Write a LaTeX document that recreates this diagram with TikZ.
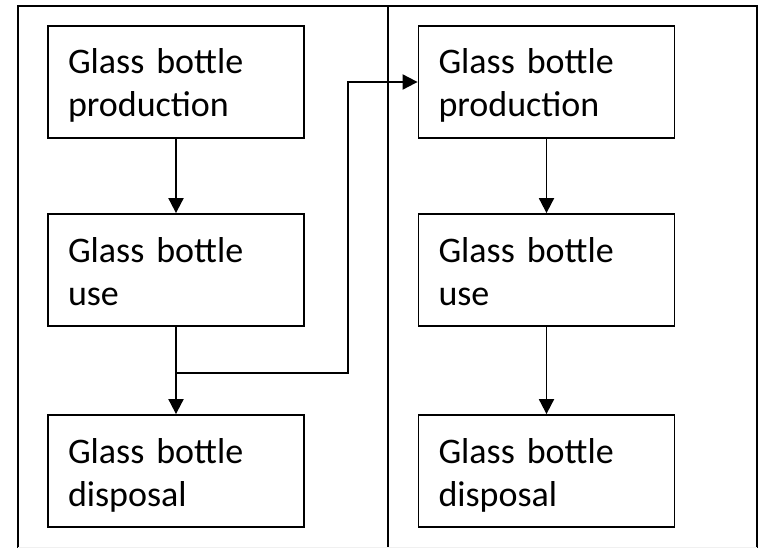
\documentclass[tikz,border=0pt]{standalone}
\usepackage{fontspec}
\setmainfont{Carlito}
\usetikzlibrary{arrows.meta}
\newcommand\boxstrut{\rule[-8pt]{0pt}{43pt}}
\tikzset{
  stagebox/.style={draw=black, line width=1.8pt, rectangle, minimum width=256pt, minimum height=112pt,
    inner xsep=20pt, inner ysep=0pt, text width=216pt, align=left,
    font=\fontsize{36}{43}\selectfont},
  frameline/.style={draw=black, line width=2.2pt},
  flow/.style={draw=black, line width=1.9pt, -{Triangle[width=15pt,length=15pt]}}
}
\begin{document}
\begin{tikzpicture}[x=1pt,y=-1pt]
\useasboundingbox (0,0) rectangle (763,548);
\fill[white] (0,0) rectangle (763,548);
% frame
\draw[frameline] (18,549) -- (18,6) -- (757,6) -- (757,549);
\draw[frameline] (388,6) -- (388,549);
\draw[gray!12, line width=1pt] (18,547) -- (757,547);
% left column
\node[stagebox] (a1) at (176,82) {\boxstrut Glass bottle\\production\boxstrut};
\node[stagebox] (a2) at (176,270) {\boxstrut Glass bottle\\use\boxstrut};
\node[stagebox] (a3) at (176,471) {\boxstrut Glass bottle\\disposal\boxstrut};
% right column
\node[stagebox] (b1) at (546.5,82) {\boxstrut Glass bottle\\production\boxstrut};
\node[stagebox] (b2) at (546.5,270) {\boxstrut Glass bottle\\use\boxstrut};
\node[stagebox] (b3) at (546.5,471) {\boxstrut Glass bottle\\disposal\boxstrut};
% connectors
\draw[flow] (a1.south) -- (a2.north);
\draw[flow] (a2.south) -- (a3.north);
\draw[flow] (b1.south) -- (b2.north);
\draw[flow] (b2.south) -- (b3.north);
\coordinate (j) at (176,373);
\coordinate (k) at (348,373);
\draw[flow] (j) -- (k) |- (b1.west);
\end{tikzpicture}
\end{document}
